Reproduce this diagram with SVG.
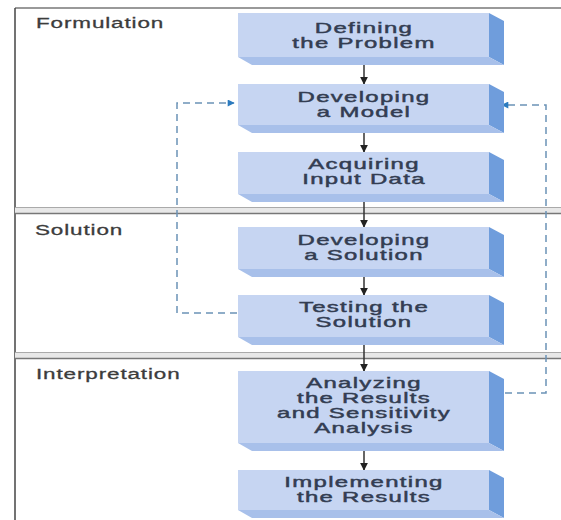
<svg xmlns="http://www.w3.org/2000/svg" width="561" height="520" viewBox="0 0 561 520">
  <style>
    .front { fill: #c6d5f2; }
    .side { fill: #6f9ddc; }
    .bot { fill: #a8c0ea; }
    .bt { font-family: "Liberation Sans", Arial, sans-serif; font-size: 14.5px; fill: #333d52; stroke: #333d52; stroke-width: 0.45; text-anchor: middle; letter-spacing: 0.8px; }
    .lbl { font-family: "Liberation Sans", Arial, sans-serif; font-size: 15.5px; fill: #3c3c3c; letter-spacing: 0.6px; stroke: #3c3c3c; stroke-width: 0.3; }
    .flow { stroke: #333; stroke-width: 1.5; fill: none; marker-end: url(#ah); }
    .fb { stroke: #6b93b6; stroke-width: 1.5; fill: none; stroke-dasharray: 7 5; marker-end: url(#bh); }
  </style>
  <defs>
    <marker id="ah" viewBox="0 0 10 10" refX="9" refY="5" markerWidth="8" markerHeight="8" markerUnits="userSpaceOnUse" orient="auto">
      <path d="M0,0 L10,5 L0,10 z" fill="#222"/>
    </marker>
    <marker id="bh" viewBox="0 0 10 10" refX="9" refY="5" markerWidth="10" markerHeight="7" markerUnits="userSpaceOnUse" orient="auto">
      <path d="M0,0 L10,5 L0,10 z" fill="#2c7bbf"/>
    </marker>
  </defs>
  <rect width="561" height="520" fill="#fff"/>

  <g id="frame">
    <line x1="15" y1="8" x2="561" y2="8" stroke="#777" stroke-width="1.5"/>
    <line x1="15" y1="8" x2="15" y2="520" stroke="#444" stroke-width="1.5"/>
    <rect x="15" y="207" width="546" height="7" fill="#e8e8e8"/>
    <line x1="15" y1="207.5" x2="561" y2="207.5" stroke="#aaa" stroke-width="1.2"/>
    <line x1="15" y1="213.5" x2="561" y2="213.5" stroke="#777" stroke-width="1.5"/>
    <rect x="15" y="352" width="546" height="7" fill="#e8e8e8"/>
    <line x1="15" y1="352.5" x2="561" y2="352.5" stroke="#aaa" stroke-width="1.2"/>
    <line x1="15" y1="358.5" x2="561" y2="358.5" stroke="#777" stroke-width="1.5"/>
  </g>

  <g id="labels">
    <text class="lbl" transform="translate(36,28) scale(1.45,1)">Formulation</text>
    <text class="lbl" transform="translate(35,235) scale(1.45,1)">Solution</text>
    <text class="lbl" transform="translate(36,379) scale(1.45,1)">Interpretation</text>
  </g>

  <g id="connectors">
    <line class="flow" x1="364" y1="65" x2="364" y2="84"/>
    <line class="flow" x1="364" y1="133" x2="364" y2="152"/>
    <line class="flow" x1="364" y1="202" x2="364" y2="227"/>
    <line class="flow" x1="364" y1="277" x2="364" y2="295"/>
    <line class="flow" x1="364" y1="345" x2="364" y2="371"/>
    <line class="flow" x1="364" y1="451" x2="364" y2="470"/>
    <path class="fb" d="M237,313 H177 V103 H234"/>
    <path class="fb" d="M505,393 H546 V105 H502"/>
  </g>

  <g id="n1">
    <rect class="front" x="238" y="13" width="251" height="44"/>
    <polygon class="side" points="489,13 504,21 504,65 489,57"/>
    <polygon class="bot" points="238,57 489,57 504,65 252,65"/>
    <text class="bt" transform="translate(364,32.5) scale(1.65,1)">Defining</text>
    <text class="bt" transform="translate(364,47.5) scale(1.65,1)">the Problem</text>
  </g>
  <g id="n2">
    <rect class="front" x="238" y="84" width="251" height="41"/>
    <polygon class="side" points="489,84 504,92 504,133 489,125"/>
    <polygon class="bot" points="238,125 489,125 504,133 252,133"/>
    <text class="bt" transform="translate(364,101.5) scale(1.65,1)">Developing</text>
    <text class="bt" transform="translate(364,116.5) scale(1.65,1)">a Model</text>
  </g>
  <g id="n3">
    <rect class="front" x="238" y="152" width="251" height="42"/>
    <polygon class="side" points="489,152 504,160 504,202 489,194"/>
    <polygon class="bot" points="238,194 489,194 504,202 252,202"/>
    <text class="bt" transform="translate(364,168.5) scale(1.65,1)">Acquiring</text>
    <text class="bt" transform="translate(364,183.5) scale(1.65,1)">Input Data</text>
  </g>
  <g id="n4">
    <rect class="front" x="238" y="227" width="251" height="42"/>
    <polygon class="side" points="489,227 504,235 504,277 489,269"/>
    <polygon class="bot" points="238,269 489,269 504,277 252,277"/>
    <text class="bt" transform="translate(364,245) scale(1.65,1)">Developing</text>
    <text class="bt" transform="translate(364,260) scale(1.65,1)">a Solution</text>
  </g>
  <g id="n5">
    <rect class="front" x="238" y="295" width="251" height="42"/>
    <polygon class="side" points="489,295 504,303 504,345 489,337"/>
    <polygon class="bot" points="238,337 489,337 504,345 252,345"/>
    <text class="bt" transform="translate(364,312) scale(1.65,1)">Testing the</text>
    <text class="bt" transform="translate(364,327) scale(1.65,1)">Solution</text>
  </g>
  <g id="n6">
    <rect class="front" x="238" y="371" width="251" height="72"/>
    <polygon class="side" points="489,371 504,379 504,451 489,443"/>
    <polygon class="bot" points="238,443 489,443 504,451 252,451"/>
    <text class="bt" transform="translate(364,388) scale(1.65,1)">Analyzing</text>
    <text class="bt" transform="translate(364,403) scale(1.65,1)">the Results</text>
    <text class="bt" transform="translate(364,418) scale(1.65,1)">and Sensitivity</text>
    <text class="bt" transform="translate(364,433) scale(1.65,1)">Analysis</text>
  </g>
  <g id="n7">
    <rect class="front" x="238" y="470" width="251" height="40"/>
    <polygon class="side" points="489,470 504,478 504,518 489,510"/>
    <polygon class="bot" points="238,510 489,510 504,518 252,518"/>
    <text class="bt" transform="translate(364,487) scale(1.65,1)">Implementing</text>
    <text class="bt" transform="translate(364,502) scale(1.65,1)">the Results</text>
  </g>
</svg>
